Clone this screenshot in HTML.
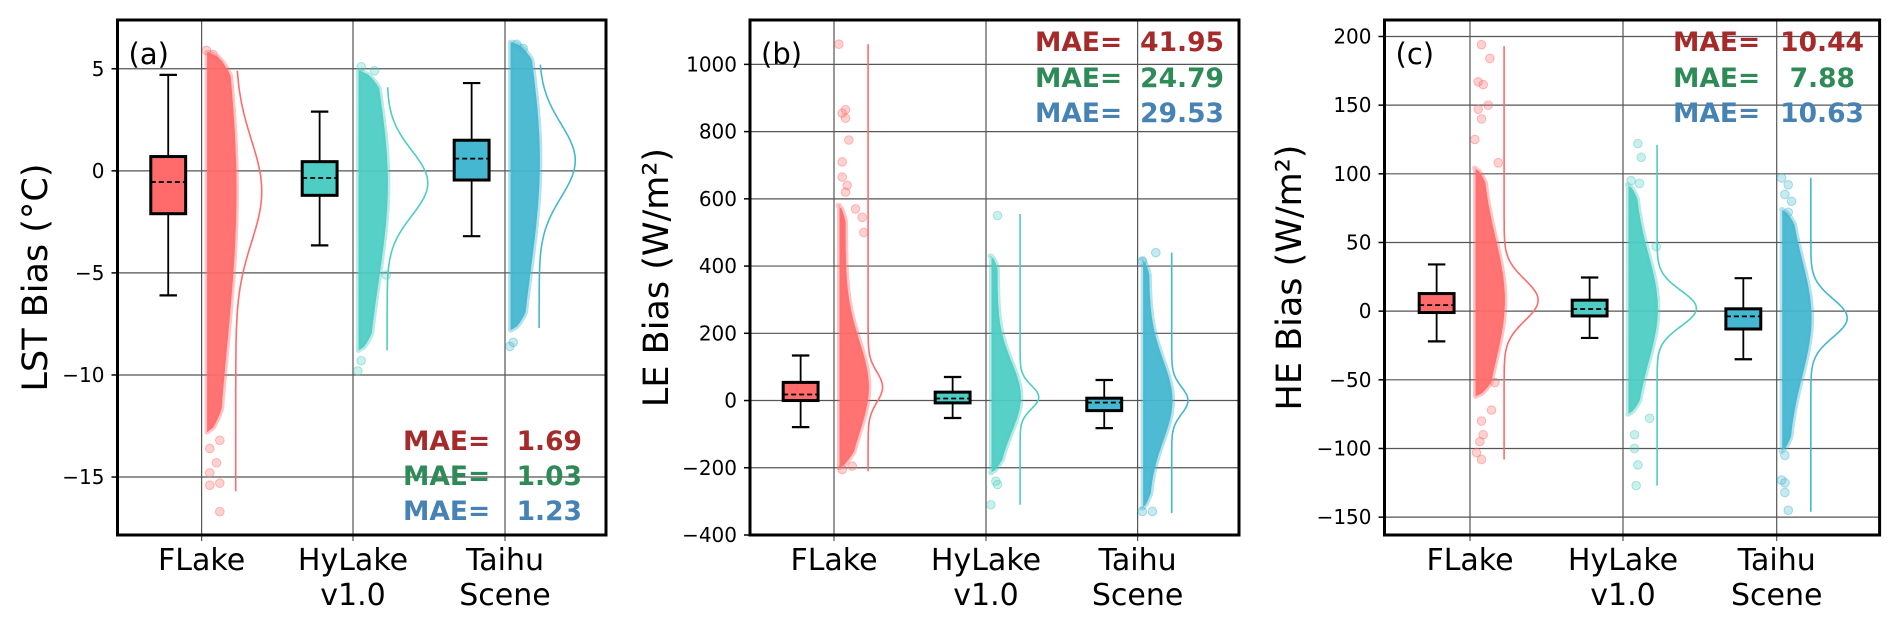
<!DOCTYPE html>
<html><head><meta charset="utf-8">
<style>
html,body{margin:0;padding:0;background:#fff;}
svg{display:block;font-family:"DejaVu Sans","Liberation Sans",sans-serif;}
</style></head>
<body>
<svg id="chart" width="1892" height="625" viewBox="0 0 1892 625" xmlns="http://www.w3.org/2000/svg"></svg>
<script>
// ---- data ----
const categories = [["FLake"], ["HyLake", "v1.0"], ["Taihu", "Scene"]];
const colors = ["#ff6b6b", "#4ecdc4", "#45b7d1"];
const maeColors = ["#a52a2a", "#2e8b57", "#4682b4"];
const panelTags = ["(a)", "(b)", "(c)"];
const yTitles = ["LST Bias (°C)", "LE Bias (W/m²)", "HE Bias (W/m²)"];
const yTicksA = [5, 0, -5, -10, -15];
const yTicksB = [1000, 800, 600, 400, 200, 0, -200, -400];
const yTicksC = [200, 150, 100, 50, 0, -50, -100, -150];
const yDomA = [-17.84, 7.39];
const yDomB = [-400, 1132];
const yDomC = [-163, 212];
// box stats: [whislo, q1, median, q3, whishi]
const boxA = [[-6.1, -2.1, -0.55, 0.7, 4.7], [-3.65, -1.2, -0.35, 0.45, 2.9], [-3.2, -0.45, 0.6, 1.5, 4.3]];
const boxB = [[-79, 0, 18, 54, 134], [-52, -7, 6, 25, 70], [-82, -30, -6, 7, 61]];
const boxC = [[-22, -1, 4.4, 12.8, 34], [-19.5, -3.5, 1.5, 8, 24.5], [-35, -13, -3.8, 1.7, 24]];
// dense scatter range [min, max]
const cloudA = [[-12.8, 5.8], [-8.8, 4.9], [-7.8, 6.3]];
const cloudB = [[-200, 580], [-215, 430], [-320, 420]];
const cloudC = [[-62, 104], [-75, 92], [-102, 74]];
// outliers [value, jitter fraction]
const outA = [[[-16.7, 0.5], [-15.4, 0.2], [-15.3, 0.5], [-14.8, 0.2], [-14.3, 0.4], [-13.6, 0.2], [-13.2, 0.5], [5.9, 0.1], [5.7, 0.3]],
              [[-9.8, 0.1], [-9.3, 0.2], [5.1, 0.2], [4.9, 0.6], [-5.1, 0.95]],
              [[-8.6, 0.1], [-8.4, 0.2], [6.2, 0.3], [6.0, 0.5]]];
const outB = [[[1060, 0.1], [865, 0.3], [855, 0.2], [840, 0.3], [775, 0.4], [710, 0.2], [665, 0.2], [640, 0.35], [620, 0.3], [570, 0.6], [545, 0.8], [500, 0.85], [-205, 0.2], [-195, 0.5]],
              [[550, 0.3], [-310, 0.1], [-250, 0.3], [-240, 0.25]],
              [[440, 0.5], [415, 0.1], [-330, 0.1], [-330, 0.4]]];
const outC = [[[194, 0.3], [184, 0.55], [167, 0.2], [165, 0.35], [150, 0.5], [147, 0.2], [140, 0.3], [125, 0.1], [108, 0.8], [-108, 0.3], [-103, 0.15], [-95, 0.25], [-90, 0.35], [-80, 0.3], [-72, 0.6], [-52, 0.7]],
              [[122, 0.4], [112, 0.5], [95, 0.2], [93, 0.45], [47, 0.95], [-78, 0.75], [-90, 0.3], [-100, 0.3], [-112, 0.4], [-127, 0.35]],
              [[97, 0.1], [92, 0.3], [85, 0.2], [80, 0.4], [72, 0.3], [-105, 0.2], [-123, 0.1], [-125, 0.2], [-132, 0.2], [-145, 0.3]]];
// KDE: [mean, sd, lineMin, lineMax]
const kdeA = [[-1.0, 2.5, -15.7, 4.9], [-0.6, 1.6, -8.8, 4.1], [0.5, 1.8, -7.7, 5.2]];
const kdeB = [[40, 45, -210, 1060], [10, 35, -310, 555], [0, 40, -335, 440]];
const kdeC = [[8, 15, -108, 193], [2, 13, -127, 121], [-5, 14, -146, 97]];
const maeA = ["1.69", "1.03", "1.23"];
const maeB = ["41.95", "24.79", "29.53"];
const maeC = ["10.44", "7.88", "10.63"];

// ---- layout ----
const NS = "http://www.w3.org/2000/svg";
const svg = document.getElementById("chart");
function mk(tag, attrs, parent) {
  const e = document.createElementNS(NS, tag);
  for (const k in attrs) e.setAttribute(k, attrs[k]);
  (parent || svg).appendChild(e);
  return e;
}
const panels = [
  {L:117.5, R:606, cats:[201.6,353,505], ticks:yTicksA, dom:yDomA, box:boxA, cloud:cloudA, out:outA, kde:kdeA, mae:maeA, kdeK:65, titleX:47, maeTop:false, maeX:403, maeNumR:582},
  {L:750, R:1239, cats:[834,986,1137.6], ticks:yTicksB, dom:yDomB, box:boxB, cloud:cloudB, out:outB, kde:kdeB, mae:maeB, kdeK:650, titleX:668, maeTop:true, maeX:1035, maeNumR:1224},
  {L:1384.5, R:1879.6, cats:[1470,1623,1776.7], ticks:yTicksC, dom:yDomC, box:boxC, cloud:cloudC, out:outC, kde:kdeC, mae:maeC, kdeK:510, titleX:1301, maeTop:true, maeX:1673, maeNumR:1864}
];
const T = 20, B = 535;
const unit = 151.7;

panels.forEach((p, pi) => {
  const g = mk("g", {});
  
  
  const y = v => B - (v - p.dom[0]) / (p.dom[1] - p.dom[0]) * (B - T);
  const ux = u => u * unit;
  // grid
  p.ticks.forEach(t => {
    const l = mk("line", {x1:p.L, x2:p.R, y1:y(t), y2:y(t), stroke:"#555", "stroke-width":1.2}, g);
    
    
    const tk = mk("line", {x1:p.L-6, x2:p.L, y1:y(t), y2:y(t), stroke:"#000", "stroke-width":1.5}, g);
    
    
    const tx = mk("text", {x:p.L-13, y:y(t)+7, "text-anchor":"end", "font-size":20, fill:"#000"}, g);
    tx.textContent = String(t).replace("-", "\u2212");
    
    
  });
  p.cats.forEach((cx, ci) => {
    const l = mk("line", {x1:cx, x2:cx, y1:T, y2:B+6, stroke:"#555", "stroke-width":1.2}, g);
    
    
    categories[ci].forEach((s, li) => {
      const tx = mk("text", {x:cx, y:570 + li*35, "text-anchor":"middle", "font-size":30, fill:"#000"}, g);
      tx.textContent = s;
      
      
    });
  });
  // series
  p.cats.forEach((cx, ci) => {
    const col = colors[ci];
    const sg = mk("g", {}, g);
    
    
    const [mu, sd, kmin, kmax] = p.kde[ci];
    // cloud
    const [cmin, cmax] = p.cloud[ci];
    const x0 = cx + ux(0.01), W = ux(0.22);
    const pts = [];
    const N = 80;
    for (let i = 0; i <= N; i++) {
      const f = i / N;
      const v = cmin + (cmax - cmin) * f;
      const z = (v - mu) / (3 * sd);
      const e = Math.min(f, 1 - f) / 0.06;
      const taper = e >= 1 ? 1 : Math.sqrt(e);
      const w = W * (0.3 + 0.7 * Math.exp(-0.5 * z * z)) * (0.25 + 0.75 * taper);
      pts.push((x0 + w).toFixed(1) + "," + y(v).toFixed(1));
    }
    pts.push((x0 + 4) + "," + y(cmax)); pts.push((x0 + 4) + "," + y(cmin));
    const cl = mk("polygon", {points:pts.join(" "), fill:col, "fill-opacity":0.95, stroke:col, "stroke-opacity":0.4, "stroke-width":5, "stroke-linejoin":"round"}, sg);
    
    
    p.out[ci].forEach(o => {
      const c = mk("circle", {cx:x0 + W*o[1], cy:y(o[0]), r:4.3, fill:col, "fill-opacity":0.3, stroke:col, "stroke-opacity":0.45}, sg);
      
      
    });
    // kde
    const kb = cx + ux(0.225);
    let d = "";
    for (let i = 0; i <= 200; i++) {
      const v = kmax - (kmax - kmin) * i / 200;
      const dens = Math.exp(-0.5 * ((v - mu) / sd) ** 2) / sd;
      d += (i ? "L" : "M") + (kb + p.kdeK * dens).toFixed(1) + "," + y(v).toFixed(1);
    }
    const kp = mk("path", {d:d, fill:"none", stroke:col, "stroke-width":1.6}, sg);
    
    
    // box
    const [wl, q1, md, q3, wh] = p.box[ci];
    const bx = cx - ux(0.22), bw = ux(0.115);
    const wk = mk("line", {x1:bx, x2:bx, y1:y(wh), y2:y(wl), stroke:"#000", "stroke-width":1.8}, sg);
    
    
    [wl, wh].forEach(v => {
      const cap = mk("line", {x1:bx-bw*0.5, x2:bx+bw*0.5, y1:y(v), y2:y(v), stroke:"#000", "stroke-width":2.2}, sg);
      
      
    });
    const r = mk("rect", {x:bx-bw, y:y(q3), width:2*bw, height:y(q1)-y(q3), fill:col, stroke:"#000", "stroke-width":3}, sg);
    
    
    const ml = mk("line", {x1:bx-bw, x2:bx+bw, y1:y(md), y2:y(md), stroke:"#000", "stroke-width":1.8, "stroke-dasharray":"5,3"}, sg);
    
    
  });
  // spine
  const sp = mk("rect", {x:p.L, y:T, width:p.R-p.L, height:B-T, fill:"none", stroke:"#000", "stroke-width":3}, g);
  
  
  // tag
  const tg = mk("text", {x:p.L+11, y:64, "font-size":29, fill:"#000"}, g);
  tg.textContent = panelTags[pi];
  
  
  // y title
  const yt = mk("text", {x:0, y:0, "text-anchor":"middle", "font-size":35, fill:"#000", transform:`translate(${p.titleX},${(T+B)/2}) rotate(-90)`}, g);
  yt.textContent = yTitles[pi];
  
  
  // MAE
  const base = p.maeTop ? [51, 87, 122] : [450, 485, 520];
  p.mae.forEach((m, mi) => {
    const a = mk("text", {x:p.maeX, y:base[mi], "font-size":26.5, "font-weight":"bold", fill:maeColors[mi]}, g);
    a.textContent = "MAE=";
    
    
    const n = mk("text", {x:p.maeNumR - (m.length < 5 && p.maeTop ? 9 : 0), y:base[mi], "text-anchor":"end", "font-size":26.5, "font-weight":"bold", fill:maeColors[mi]}, g);
    n.textContent = m;
    
    
  });
});
</script>
</body></html>
